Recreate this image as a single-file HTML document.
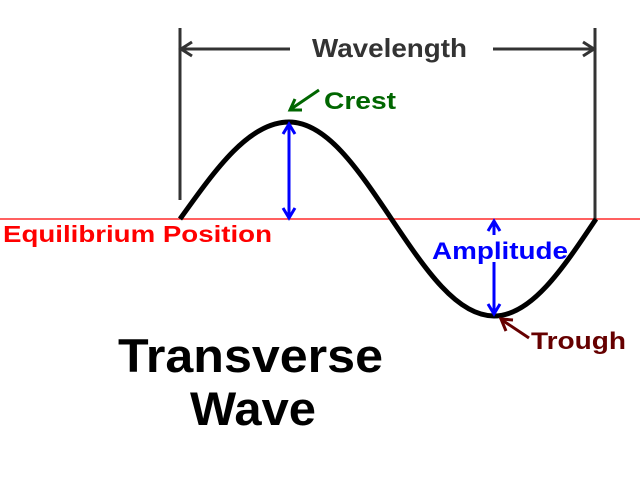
<!DOCTYPE html>
<html><head><style>body{margin:0;background:#fff}svg{display:block}text{font-family:"Liberation Sans",sans-serif;font-weight:bold}</style></head>
<body>
<svg width="640" height="480" viewBox="0 0 640 480" xmlns="http://www.w3.org/2000/svg">
<line x1="0" y1="219" x2="640" y2="219" stroke="#f00" stroke-width="1.2"/>
<g stroke="#333" stroke-width="3" fill="none">
<line x1="180" y1="28" x2="180" y2="200"/>
<line x1="595" y1="28" x2="595" y2="219"/>
<line x1="181" y1="49" x2="290" y2="49"/>
<line x1="493" y1="49" x2="593" y2="49"/>
<polyline points="192,42 181,49 192,56"/>
<polyline points="583,42 594,49 583,56"/>
</g>
<text x="312" y="57" font-size="26" fill="#333" textLength="155" lengthAdjust="spacingAndGlyphs">Wavelength</text>
<path d="M180,219 C216.4,168.1 249.4,122 289,122 C326.2,122 357.3,168.1 391.5,219 C425.7,269.9 456.8,316 494,316 C531,316 562,269.9 596,219" stroke="#000" stroke-width="5" fill="none"/>
<g stroke="#00f" stroke-width="3" fill="none">
<line x1="289" y1="125" x2="289" y2="218"/>
<polyline points="283,134 289,124 295,134"/>
<polyline points="283,208 289,218 295,208"/>
<line x1="494" y1="222" x2="494" y2="235"/>
<line x1="494" y1="262" x2="494" y2="313"/>
<polyline points="488,231 494,221 500,231"/>
<polyline points="488,304 494,314 500,304"/>
</g>
<g stroke="#060" stroke-width="3" fill="none">
<line x1="319" y1="90" x2="291" y2="109"/>
<polyline points="295,99 290,110 302,110"/>
</g>
<text x="324" y="109" font-size="24" fill="#006600" textLength="72" lengthAdjust="spacingAndGlyphs">Crest</text>
<g stroke="#600" stroke-width="3" fill="none">
<line x1="529" y1="338" x2="502" y2="320"/>
<polyline points="513,320 501,319 506,331"/>
</g>
<text x="531" y="349" font-size="24" fill="#660000" textLength="95" lengthAdjust="spacingAndGlyphs">Trough</text>
<text x="3" y="242" font-size="23" fill="#f00" textLength="269" lengthAdjust="spacingAndGlyphs">Equilibrium Position</text>
<text x="432" y="259" font-size="24" fill="#00f" textLength="136" lengthAdjust="spacingAndGlyphs">Amplitude</text>
<text x="118" y="372" font-size="47" fill="#000" textLength="265" lengthAdjust="spacingAndGlyphs">Transverse</text>
<text x="190" y="425" font-size="47" fill="#000" textLength="126" lengthAdjust="spacingAndGlyphs">Wave</text>
</svg>
</body></html>
